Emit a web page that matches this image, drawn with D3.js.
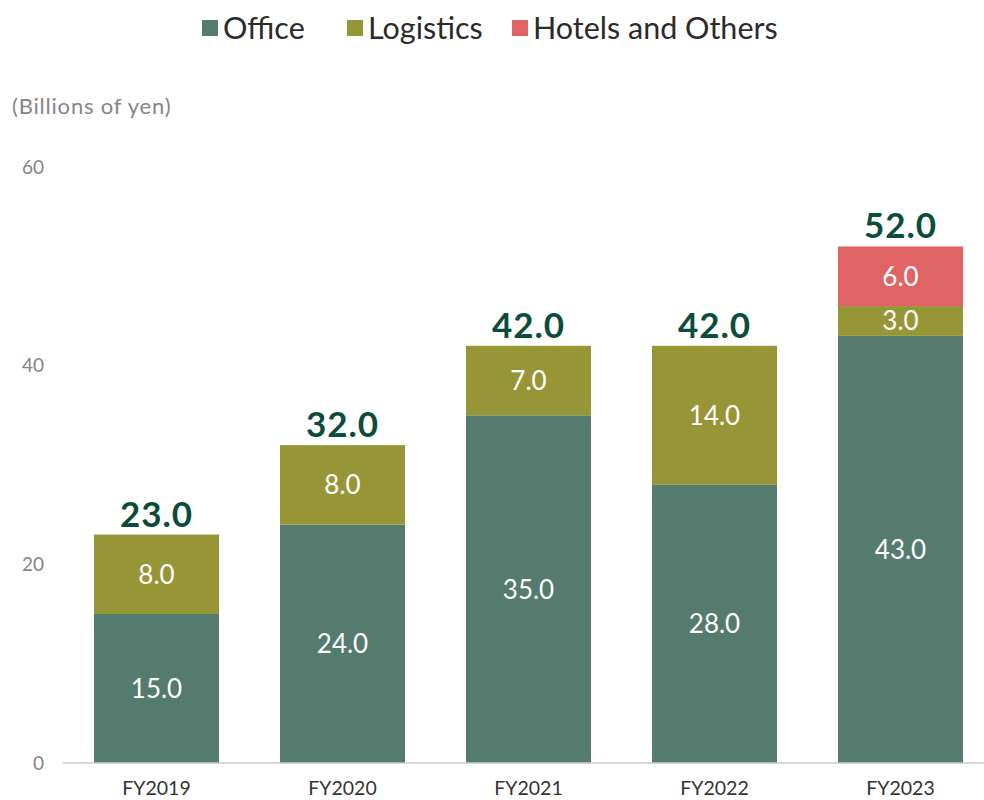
<!DOCTYPE html>
<html><head><meta charset="utf-8">
<script src="https://cdn.jsdelivr.net/npm/d3@7"></script>
<style>body{margin:0;background:#fff;} svg{display:block;}</style>
</head><body>
<script>
const categories = ["FY2019","FY2020","FY2021","FY2022","FY2023"];
const seriesNames = ["Office","Logistics","Hotels and Others"];
const office = [15.0, 24.0, 35.0, 28.0, 43.0];
const logistics = [8.0, 8.0, 7.0, 14.0, 3.0];
const hotels = [0, 0, 0, 0, 6.0];
const totals = [23.0, 32.0, 42.0, 42.0, 52.0];
const yTicks = [0, 20, 40, 60];
const colors = ["#557a6e", "#979637", "#e06466"];
const font = "Lato, 'Noto Sans', sans-serif";

const W = 984, H = 800;
const svg = d3.select("body").append("svg").attr("width", W).attr("height", H);

const rows = categories.map((c, i) => ({cat: c, "Office": office[i], "Logistics": logistics[i], "Hotels and Others": hotels[i], total: totals[i]}));
const stack = d3.stack().keys(seriesNames)(rows);

const x = d3.scaleBand().domain(categories).range([63.5, 993.5]).paddingInner(0.328).paddingOuter(0.164);
const y = d3.scaleLinear().domain([0, 60]).range([763, 167]);

// y tick labels
svg.append("g").selectAll("text").data(yTicks).join("text")
  .attr("x", 44).attr("y", d => y(d)).attr("dy", "0.35em")
  .attr("text-anchor", "end").attr("font-family", font).attr("font-size", 19).attr("fill", "#858585")
  .text(d => d);

svg.append("text").attr("x", 12).attr("y", 106).attr("dy", "0.35em")
  .attr("font-family", font).attr("font-size", 22).attr("letter-spacing", 0.8).attr("fill", "#858585").text("(Billions of yen)");

// bars
stack.forEach((s, si) => {
  const g = svg.append("g");
  g.selectAll("rect").data(s.filter(d => d[1] - d[0] > 0)).join("rect")
    .attr("x", d => x(d.data.cat)).attr("width", x.bandwidth())
    .attr("y", d => y(d[1])).attr("height", d => y(d[0]) - y(d[1]))
    .attr("fill", colors[si]);
  g.selectAll("text").data(s.filter(d => d[1] - d[0] > 0)).join("text")
    .attr("x", d => x(d.data.cat) + x.bandwidth() / 2)
    .attr("y", d => (y(d[0]) + y(d[1])) / 2).attr("dy", "0.36em")
    .attr("text-anchor", "middle").attr("font-family", font).attr("font-size", 26).attr("fill", "#fff")
    .text(d => (d[1] - d[0]).toFixed(1));
});

// totals
svg.append("g").selectAll("text").data(rows).join("text")
  .attr("x", d => x(d.cat) + x.bandwidth() / 2).attr("y", d => y(d.total) - 8)
  .attr("text-anchor", "middle").attr("font-family", font).attr("font-weight", "bold")
  .attr("font-size", 35).attr("letter-spacing", 1).attr("fill", "#0b4d3a")
  .text(d => d.total.toFixed(1));

// x axis
const xAxis = svg.append("g").attr("transform", `translate(0,${y(0)})`)
  .call(d3.axisBottom(x).tickSize(0).tickPadding(18));
xAxis.select(".domain").attr("d", `M63,0H984`).attr("stroke", "#c8c8c8").attr("stroke-width", 1.5);
xAxis.selectAll("text").attr("font-family", font).attr("font-size", 19.5).attr("fill", "#333");

// legend
const legX = [202, 347, 512];
const leg = svg.append("g");
seriesNames.forEach((n, i) => {
  leg.append("rect").attr("x", legX[i]).attr("y", 20).attr("width", 16).attr("height", 16).attr("fill", colors[i]);
  leg.append("text").attr("x", legX[i] + 21).attr("y", 28).attr("dy", "0.36em")
    .attr("font-family", font).attr("font-size", 30.5).attr("fill", "#2b2b2b").text(n);
});
</script>
</body></html>
